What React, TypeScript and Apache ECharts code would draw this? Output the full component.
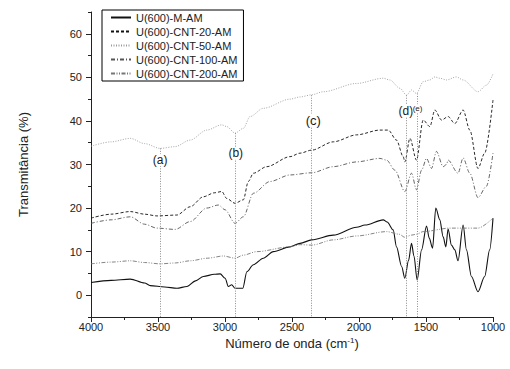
import React, { useEffect, useRef } from 'react';
import * as echarts from 'echarts';

const seriesNames = [
  'U(600)-M-AM',
  'U(600)-CNT-20-AM',
  'U(600)-CNT-50-AM',
  'U(600)-CNT-100-AM',
  'U(600)-CNT-200-AM',
];

const mAm: number[][] = [
  [4000, 2.9], [3850, 3.4], [3707, 3.7], [3600, 2.8], [3558, 2.2], [3450, 1.9], [3359, 1.6],
  [3284, 2.0], [3220, 3.3], [3161, 4.3], [3080, 4.8], [3036, 4.9], [2999, 3.9], [2975, 2.0],
  [2950, 2.4], [2925, 1.6], [2867, 1.6], [2837, 5.4], [2788, 7.0], [2714, 8.5], [2639, 10.0],
  [2515, 11.1], [2440, 11.9], [2353, 12.7], [2192, 13.8], [2018, 15.6], [1956, 16.1],
  [1819, 17.3], [1790, 16.8], [1745, 15.0], [1720, 11.1], [1682, 6.6], [1658, 3.9], [1630, 8.0],
  [1608, 11.9], [1590, 9.0], [1566, 3.5], [1533, 10.4], [1496, 15.9], [1476, 13.1], [1451, 10.8],
  [1427, 20.0], [1397, 17.3], [1372, 13.4], [1352, 11.1], [1335, 15.2], [1310, 11.5],
  [1285, 10.4], [1261, 7.9], [1223, 16.1], [1198, 10.4], [1161, 4.3], [1112, 0.8], [1062, 4.3],
  [1025, 10.4], [1000, 17.7],
];

const cnt20: number[][] = [
  [4000, 17.7], [3850, 18.6], [3707, 19.2], [3600, 18.6], [3508, 18.2], [3359, 18.4], [3260, 20.3],
  [3161, 22.6], [3080, 23.5], [3024, 23.8], [2987, 22.2], [2925, 21.1], [2863, 21.9], [2826, 26.1],
  [2788, 28.0], [2689, 29.5], [2515, 31.8], [2440, 32.6], [2353, 33.3], [2192, 35.2], [2018, 36.8],
  [1844, 37.9], [1782, 37.9], [1720, 35.6], [1670, 31.8], [1658, 30.6], [1620, 36.0], [1571, 31.0],
  [1521, 40.2], [1471, 38.7], [1434, 42.5], [1384, 40.2], [1335, 41.0], [1285, 39.4], [1223, 42.5],
  [1173, 37.9], [1112, 29.1], [1062, 32.6], [1000, 44.8],
];

const cnt50: number[][] = [
  [4000, 34.2], [3850, 35.2], [3707, 36.0], [3600, 34.8], [3484, 33.7], [3372, 34.1], [3260, 35.6],
  [3136, 37.9], [3024, 39.1], [2987, 38.7], [2925, 37.2], [2863, 38.3], [2813, 41.0], [2714, 42.9],
  [2515, 45.0], [2440, 45.5], [2353, 46.0], [2267, 46.7], [2018, 48.6], [1819, 49.8], [1770, 49.4],
  [1695, 47.5], [1645, 45.9], [1608, 47.1], [1571, 46.3], [1521, 49.0], [1471, 49.4], [1434, 50.1],
  [1397, 49.8], [1347, 49.4], [1273, 50.1], [1223, 49.4], [1112, 46.7], [1049, 48.2], [1000, 50.8],
];

const cnt100: number[][] = [
  [4000, 16.5], [3850, 17.3], [3707, 18.0], [3600, 16.3], [3508, 15.4], [3372, 15.1], [3260, 16.9],
  [3136, 20.0], [3049, 20.7], [2999, 19.6], [2925, 16.5], [2863, 18.0], [2788, 23.4], [2664, 26.1],
  [2515, 27.6], [2353, 28.1], [2192, 29.5], [2018, 30.6], [1844, 31.4], [1794, 31.0], [1732, 28.7],
  [1658, 23.8], [1608, 28.0], [1571, 24.2], [1533, 28.7], [1496, 31.4], [1459, 29.1], [1422, 33.0],
  [1372, 29.5], [1347, 30.0], [1335, 31.0], [1261, 28.0], [1223, 31.5], [1173, 28.0], [1112, 22.4],
  [1049, 25.0], [1000, 32.6],
];

const cnt200: number[][] = [
  [4000, 7.2], [3850, 7.6], [3707, 7.9], [3600, 7.5], [3484, 7.2], [3372, 7.4], [3260, 7.9],
  [3130, 8.5], [3012, 9.0], [2925, 8.5], [2863, 9.2], [2763, 10.0], [2515, 11.1], [2440, 11.6],
  [2353, 11.5], [2192, 12.7], [2018, 13.6], [1794, 14.6], [1700, 14.0], [1658, 13.3], [1608, 13.8],
  [1570, 14.0], [1521, 14.6], [1322, 15.4], [1112, 15.4], [1000, 17.7],
];

const peakLabels = ['(a)', '(b)', '(c)', '(d)', '(e)'];
const peakWavenumbers = [3484, 2920, 2356, 1648, 1566];
const peakTops = [33.7, 37.2, 45.9, 45.9, 46.3];
const peakLabelX = [3484, 2920, 2341, 1650, 1563];
const peakLabelY = [31.0, 32.6, 40.2, 42.3, 42.9];
const peakLabelSizes = [12, 12, 13, 12, 8];

const yTicks = [0, 10, 20, 30, 40, 50, 60];
const yMinorTicks = [-5, 5, 15, 25, 35, 45, 55, 65];

const FONT = '"Liberation Sans", Arial, Helvetica, sans-serif';
const AX = '#222';

export default function App() {
  const ref = useRef<HTMLDivElement>(null);
  useEffect(() => {
    if (!ref.current) return;
    const chart = echarts.init(ref.current, null, { renderer: 'svg' });
    const styles = [
      { color: '#111', width: 1.1, type: 'solid' as any },
      { color: '#111', width: 0.9, type: [3, 2] },
      { color: '#9a9a9a', width: 0.9, type: [1, 1.5] },
      { color: '#555', width: 0.9, type: [4, 2, 1, 2] },
      { color: '#777', width: 0.9, type: [4, 1.5, 1, 1.5, 1, 1.5] },
    ];
    const datas = [mAm, cnt20, cnt50, cnt100, cnt200];
    const lineSeries: any[] = datas.map((d, i) => ({
      type: 'line',
      name: seriesNames[i],
      data: d,
      symbol: 'none',
      smooth: 0.3,
      smoothMonotone: 'x',
      lineStyle: styles[i],
      itemStyle: { color: styles[i].color },
      z: 3,
      markLine:
        i === 2
          ? {
              silent: true,
              symbol: ['none', 'none'],
              lineStyle: { color: '#8a8a8a', width: 1, type: [1, 1.5] },
              label: { show: false },
              data: peakWavenumbers.map((w, k) => [
                { coord: [w, peakTops[k]] },
                { coord: [w, -5] },
              ]),
            }
          : undefined,
      markPoint:
        i === 2
          ? {
              silent: true,
              symbol: 'circle',
              symbolSize: 0,
              itemStyle: { color: '#000', opacity: 0 },
              data: peakLabels.map((l, k) => ({
                name: l,
                coord: [peakLabelX[k], peakLabelY[k]],
                label: {
                  show: true,
                  position: [0, 0],
                  align: 'center',
                  verticalAlign: 'middle',
                  formatter: l,
                  color: '#1a1a1a',
                  opacity: 1,
                  fontSize: peakLabelSizes[k],
                  fontFamily: FONT,
                  backgroundColor: '#fff',
                  textBorderWidth: 0,
                },
              })),
            }
          : undefined,
    }));
    chart.setOption({
      animation: false,
      textStyle: { fontFamily: FONT },
      grid: { left: 91, right: 17, top: 12, bottom: 52, containLabel: false },
      legend: {
        data: seriesNames,
        orient: 'vertical',
        left: 102,
        top: 10,
        itemWidth: 20,
        itemHeight: 10,
        itemGap: 3,
        padding: [2, 6, 2, 8],
        borderColor: '#000',
        borderWidth: 1,
        borderRadius: 0,
        itemStyle: { opacity: 0 },
        textStyle: { fontSize: 11, color: AX, fontFamily: FONT },
      },
      xAxis: {
        type: 'value',
        min: 1000,
        max: 4000,
        interval: 500,
        inverse: true,
        axisLine: { show: true, onZero: false, lineStyle: { color: AX, width: 1 } },
        axisTick: { show: true, length: 5, lineStyle: { color: AX } },
        minorTick: { show: true, splitNumber: 2, length: 3, lineStyle: { color: AX } },
        splitLine: { show: false },
        minorSplitLine: { show: false },
        axisLabel: {
          fontSize: 11,
          color: AX,
          margin: 4,
          fontFamily: FONT,
          formatter: (v: number) => String(v),
        },
        name: '{a|Número de onda (cm}{s|-1}{a|)}',
        nameLocation: 'middle',
        nameGap: 19,
        nameTextStyle: {
          rich: {
            a: { fontSize: 13, color: AX, fontFamily: FONT },
            s: { fontSize: 8, color: AX, fontFamily: FONT, verticalAlign: 'top', padding: [0, 0, 6, 0] },
          },
        },
      },
      yAxis: [
        {
          type: 'value',
          min: -5,
          max: 65,
          axisLine: { show: true, onZero: false, lineStyle: { color: AX, width: 1 } },
          axisTick: { show: true, length: 5, customValues: yTicks, lineStyle: { color: AX } },
          axisLabel: { fontSize: 11, color: AX, margin: 9, customValues: yTicks, fontFamily: FONT },
          splitLine: { show: false },
          name: 'Transmitância (%)',
          nameLocation: 'middle',
          nameGap: 61,
          nameTextStyle: { fontSize: 13, color: AX, fontFamily: FONT },
        },
        {
          type: 'value',
          min: -5,
          max: 65,
          position: 'left',
          axisLine: { show: false },
          axisTick: { show: true, length: 3, customValues: yMinorTicks, lineStyle: { color: AX } },
          axisLabel: { show: false },
          splitLine: { show: false },
        },
      ],
      series: lineSeries,
    });
    return () => chart.dispose();
  }, []);
  return (
    <div
      ref={ref}
      style={{ position: 'fixed', left: 0, top: 0, width: 510, height: 369, background: '#fff' }}
    />
  );
}
